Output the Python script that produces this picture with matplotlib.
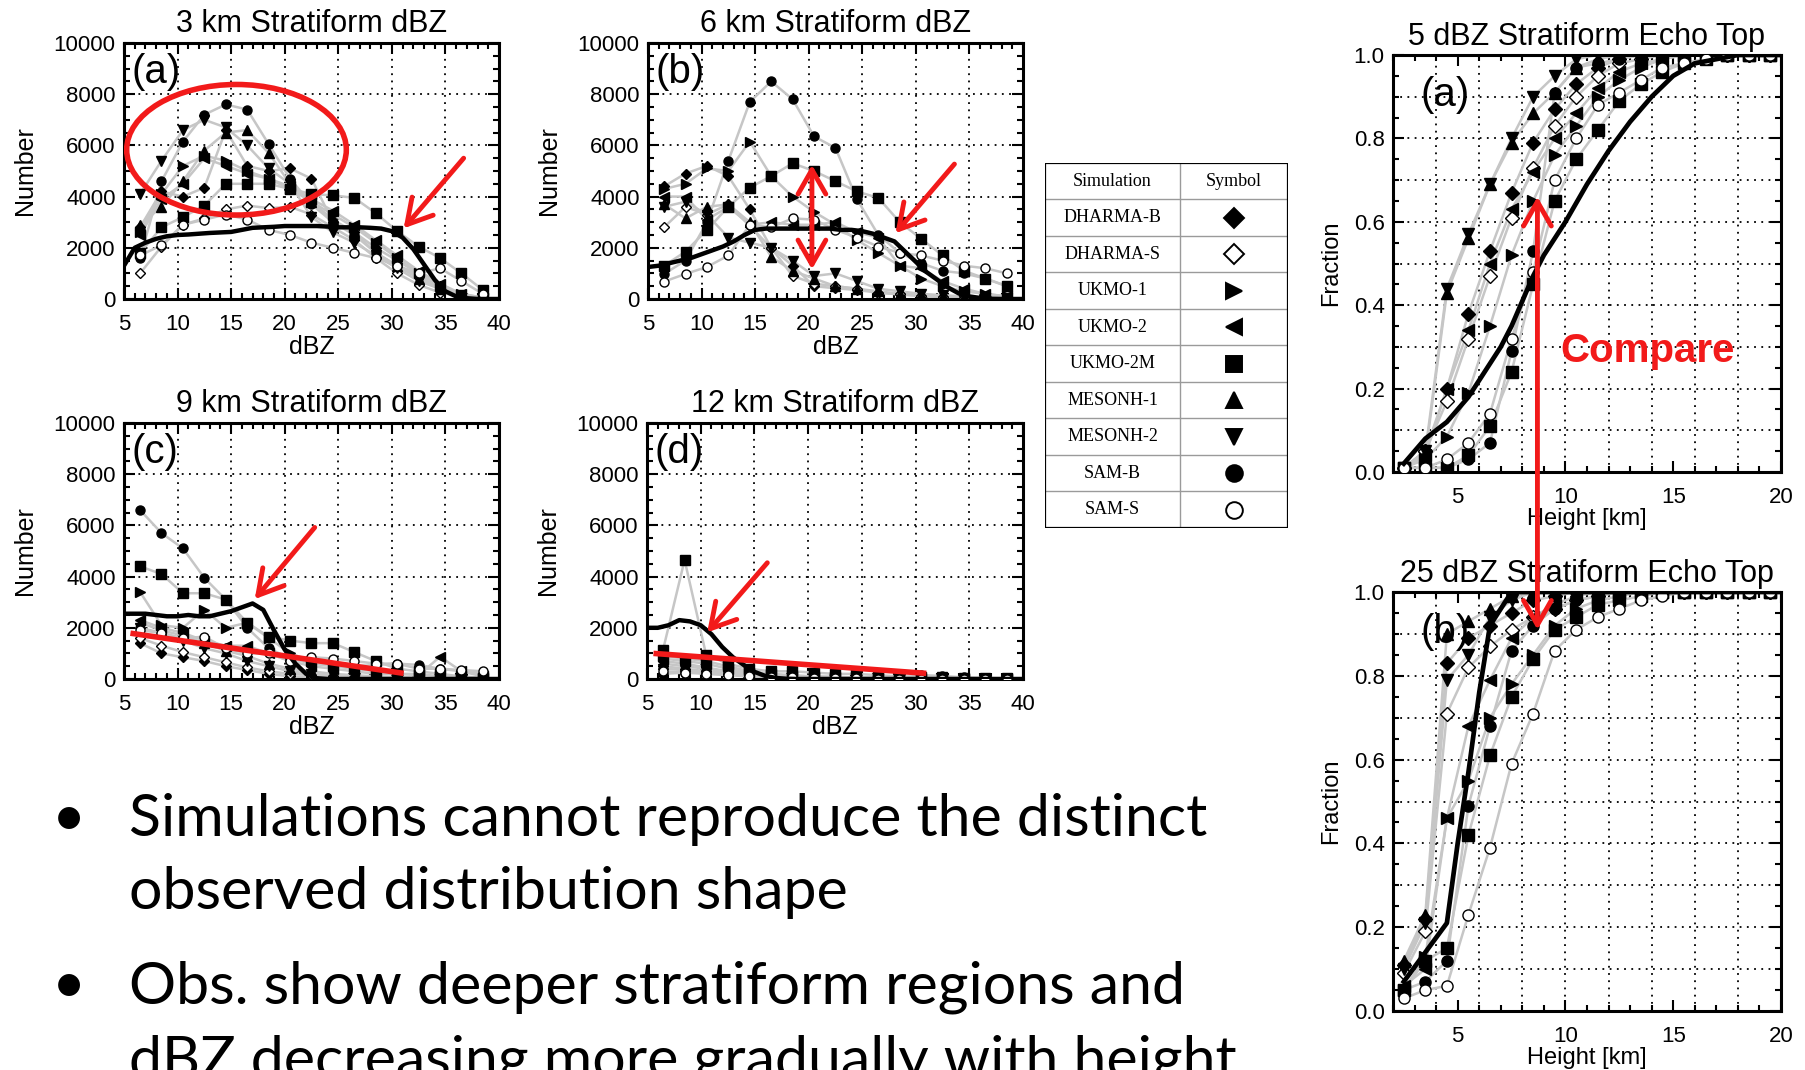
import matplotlib.pyplot as plt
from matplotlib.patches import Ellipse, Rectangle, ConnectionPatch
from matplotlib.ticker import MultipleLocator, FormatStrFormatter

plt.rcParams['font.family'] = ['Liberation Sans', 'DejaVu Sans']

W, H = 1806, 1070

sims = ['DHARMA-B', 'DHARMA-S', 'UKMO-1', 'UKMO-2', 'UKMO-2M',
        'MESONH-1', 'MESONH-2', 'SAM-B', 'SAM-S']
sim_markers = ['D', 'D', '>', '<', 's', '^', 'v', 'o', 'o']
sim_filled = [True, False, True, True, True, True, True, True, False]

dbz_bins = [6.5, 8.5, 10.5, 12.5, 14.5, 16.5, 18.5, 20.5, 22.5,
            24.5, 26.5, 28.5, 30.5, 32.5, 34.5, 36.5, 38.5]
obs_dbz = list(range(5, 41))
heights = [2.5, 3.5, 4.5, 5.5, 6.5, 7.5, 8.5, 9.5, 10.5,
           11.5, 12.5, 13.5, 14.5, 15.5, 16.5, 17.5, 18.5, 19.5]

# ---- 3 km dBZ counts
km3_dharma_b = [2800, 4200, 4000, 4350, 6600, 5200, 5000, 5100, 4700, 3000, 2600, 2000, 1500, 1000, 500, 150, 50]
km3_dharma_s = [1000, 2050, 2900, 3150, 3500, 3650, 3550, 3600, 3300, 2800, 2300, 1600, 1000, 550, 250, 100, 30]
km3_ukmo_1 = [2600, 4100, 5200, 5600, 5400, 5000, 4700, 4300, 3800, 3300, 2800, 2200, 1600, 1000, 500, 200, 50]
km3_ukmo_2 = [2500, 3900, 4500, 5500, 5200, 4900, 4700, 4400, 3900, 3450, 2900, 2300, 1700, 1100, 600, 200, 50]
km3_ukmo_2m = [1800, 2800, 3200, 3650, 4500, 4500, 4500, 4300, 4100, 4050, 3950, 3350, 2650, 2050, 1600, 1000, 350]
km3_mesonh_1 = [2900, 3600, 4600, 5800, 6500, 6600, 5700, 4500, 3800, 3100, 2600, 1800, 1300, 800, 400, 150, 50]
km3_mesonh_2 = [4100, 5400, 6600, 7000, 6700, 6000, 5100, 4500, 3200, 2600, 2200, 1700, 1200, 700, 400, 150, 50]
km3_sam_b = [1600, 4600, 6150, 7200, 7600, 7400, 6050, 4700, 3700, 3000, 2500, 1800, 1300, 900, 400, 150, 50]
km3_sam_s = [1700, 2100, 2900, 3100, 3300, 3100, 2700, 2500, 2200, 2000, 1800, 1600, 1300, 1000, 1200, 700, 200]
km3_obs = [1300, 2000, 2200, 2350, 2450, 2500, 2520, 2550, 2580, 2600, 2620, 2700, 2780, 2800, 2820, 2850,
           2850, 2850, 2850, 2830, 2800, 2800, 2800, 2780, 2750, 2650, 2400, 1950, 1350, 750, 300, 100, 30, 0, 0, 0]

# ---- 6 km dBZ counts
km6_dharma_b = [4400, 4900, 5200, 4800, 3500, 2000, 1300, 500, 420, 350, 250, 180, 120, 80, 50, 30, 20]
km6_dharma_s = [2800, 3600, 3300, 3700, 2850, 2000, 900, 600, 500, 400, 250, 180, 120, 80, 50, 30, 20]
km6_ukmo_1 = [4300, 4500, 5100, 5000, 6150, 4800, 4000, 3400, 2900, 2300, 1800, 1300, 800, 500, 300, 200, 100]
km6_ukmo_2 = [4000, 4000, 3100, 3600, 2900, 3000, 2900, 2900, 3000, 2600, 2400, 1300, 1200, 700, 400, 200, 100]
km6_ukmo_2m = [1300, 1850, 2700, 3600, 4350, 4800, 5300, 5000, 4600, 4200, 3950, 3000, 2350, 1700, 1100, 800, 500]
km6_mesonh_1 = [3700, 3150, 3600, 3700, 3000, 1650, 1100, 800, 500, 400, 300, 200, 150, 100, 70, 40, 20]
km6_mesonh_2 = [3600, 3800, 3300, 2400, 2200, 2000, 1500, 900, 1000, 700, 400, 300, 200, 150, 100, 60, 30]
km6_sam_b = [980, 1500, 3000, 5400, 7700, 8500, 7800, 6350, 5900, 3900, 2500, 1800, 1400, 1100, 1000, 800, 500]
km6_sam_s = [680, 980, 1250, 1700, 2900, 2800, 3150, 3100, 2700, 2400, 2050, 1800, 1700, 1500, 1300, 1200, 1000]
km6_obs = [1250, 1300, 1400, 1500, 1600, 1750, 1900, 2050, 2250, 2500, 2700, 2750, 2750, 2750, 2750, 2750,
           2750, 2750, 2700, 2700, 2650, 2550, 2400, 2250, 1850, 1450, 1050, 750, 450, 220, 100, 40, 10, 0, 0, 0]

# ---- 9 km dBZ counts
km9_dharma_b = [1400, 1000, 850, 700, 500, 350, 200, 100, 60, 40, 30, 20, 10, 10, 0, 0, 0]
km9_dharma_s = [1600, 1300, 1050, 850, 650, 450, 300, 200, 150, 100, 80, 60, 40, 30, 20, 10, 0]
km9_ukmo_1 = [3400, 2100, 2000, 2700, 2000, 2200, 1600, 1000, 700, 500, 400, 300, 200, 200, 100, 60, 30]
km9_ukmo_2 = [2300, 2000, 1800, 1500, 1300, 1300, 1000, 700, 500, 400, 300, 200, 200, 150, 870, 300, 100]
km9_ukmo_2m = [4400, 4100, 3350, 3350, 3100, 2200, 1650, 1500, 1400, 1400, 1050, 700, 400, 300, 200, 100, 50]
km9_mesonh_1 = [2200, 1900, 1700, 1400, 1100, 900, 600, 400, 300, 200, 150, 100, 80, 50, 30, 20, 10]
km9_mesonh_2 = [2000, 1800, 1500, 1200, 1000, 700, 500, 300, 200, 150, 100, 80, 50, 30, 20, 10, 0]
km9_sam_b = [6600, 5700, 5100, 3950, 3100, 2000, 1200, 800, 600, 500, 500, 550, 600, 550, 400, 300, 200]
km9_sam_s = [1900, 1800, 1600, 1650, 1200, 1000, 1000, 700, 850, 800, 700, 600, 600, 400, 400, 350, 300]
km9_obs = [2550, 2550, 2550, 2500, 2450, 2450, 2500, 2450, 2450, 2550, 2650, 2800, 2950, 2700, 1900, 1150,
           600, 200, 30, 0, 0, 0, 0, 0, 0, 0, 0, 0, 0, 0, 0, 0, 0, 0, 0, 0]

# ---- 12 km dBZ counts
km12_dharma_b = [700, 600, 450, 300, 200, 120, 80, 50, 30, 20, 10, 10, 0, 0, 0, 0, 0]
km12_dharma_s = [500, 400, 300, 200, 150, 100, 60, 40, 20, 10, 0, 0, 0, 0, 0, 0, 0]
km12_ukmo_1 = [900, 800, 700, 500, 300, 200, 150, 100, 80, 60, 40, 30, 20, 10, 0, 0, 0]
km12_ukmo_2 = [800, 700, 600, 400, 250, 180, 120, 80, 60, 40, 30, 20, 10, 0, 0, 0, 0]
km12_ukmo_2m = [1150, 4650, 950, 600, 400, 300, 300, 250, 200, 200, 150, 100, 80, 60, 50, 30, 20]
km12_mesonh_1 = [600, 500, 400, 300, 200, 100, 60, 40, 20, 10, 0, 0, 0, 0, 0, 0, 0]
km12_mesonh_2 = [400, 350, 300, 200, 120, 80, 50, 30, 20, 10, 0, 0, 0, 0, 0, 0, 0]
km12_sam_b = [200, 250, 300, 250, 200, 150, 120, 100, 80, 60, 50, 40, 150, 120, 60, 40, 30]
km12_sam_s = [300, 250, 200, 150, 100, 80, 60, 40, 30, 20, 10, 10, 0, 0, 0, 0, 0]
km12_obs = [2000, 2000, 2100, 2300, 2250, 2100, 1750, 1250, 850, 550, 280, 120, 40, 10, 0, 0, 0, 0,
            0, 0, 0, 0, 0, 0, 0, 0, 0, 0, 0, 0, 0, 0, 0, 0, 0, 0]

# ---- 5 dBZ echo top cumulative fraction
et5_dharma_b = [0.01, 0.05, 0.20, 0.38, 0.53, 0.67, 0.79, 0.87, 0.93, 0.97, 0.99, 1, 1, 1, 1, 1, 1, 1]
et5_dharma_s = [0.01, 0.05, 0.17, 0.32, 0.47, 0.61, 0.73, 0.83, 0.90, 0.95, 0.98, 0.99, 1, 1, 1, 1, 1, 1]
et5_ukmo_1 = [0.01, 0.03, 0.085, 0.19, 0.35, 0.52, 0.65, 0.76, 0.83, 0.90, 0.94, 0.97, 0.99, 1, 1, 1, 1, 1]
et5_ukmo_2 = [0.01, 0.04, 0.20, 0.34, 0.50, 0.63, 0.72, 0.80, 0.86, 0.92, 0.96, 0.98, 0.99, 1, 1, 1, 1, 1]
et5_ukmo_2m = [0.01, 0.01, 0.01, 0.04, 0.11, 0.24, 0.45, 0.65, 0.75, 0.82, 0.89, 0.93, 0.96, 0.98, 0.99, 1, 1, 1]
et5_mesonh_1 = [0.01, 0.04, 0.43, 0.56, 0.69, 0.79, 0.86, 0.91, 0.97, 0.99, 1, 1, 1, 1, 1, 1, 1, 1]
et5_mesonh_2 = [0.01, 0.05, 0.44, 0.57, 0.69, 0.80, 0.90, 0.95, 0.99, 1, 1, 1, 1, 1, 1, 1, 1, 1]
et5_sam_b = [0.01, 0.01, 0.01, 0.03, 0.07, 0.29, 0.53, 0.91, 0.97, 0.98, 0.99, 1, 1, 1, 1, 1, 1, 1]
et5_sam_s = [0.01, 0.01, 0.03, 0.07, 0.14, 0.32, 0.48, 0.70, 0.80, 0.88, 0.91, 0.94, 0.97, 0.98, 0.99, 1, 1, 1]
et5_obs_h = [2.5, 3, 3.5, 4, 4.5, 5, 5.5, 6, 6.5, 7, 7.5, 8, 8.5, 9, 9.5, 10, 11, 12, 13, 14, 15, 16, 17, 18, 19, 20]
et5_obs = [0.02, 0.05, 0.08, 0.10, 0.12, 0.15, 0.18, 0.22, 0.26, 0.30, 0.35, 0.41, 0.47, 0.52, 0.56, 0.60,
           0.69, 0.77, 0.84, 0.90, 0.95, 0.98, 0.99, 1.0, 1.0, 1.0]

# ---- 25 dBZ echo top cumulative fraction
et25_dharma_b = [0.11, 0.22, 0.83, 0.89, 0.92, 0.95, 0.98, 0.99, 1, 1, 1, 1, 1, 1, 1, 1, 1, 1]
et25_dharma_s = [0.09, 0.19, 0.71, 0.82, 0.87, 0.91, 0.94, 0.96, 0.98, 0.99, 1, 1, 1, 1, 1, 1, 1, 1]
et25_ukmo_1 = [0.05, 0.13, 0.46, 0.55, 0.70, 0.78, 0.85, 0.92, 0.96, 0.98, 0.99, 1, 1, 1, 1, 1, 1, 1]
et25_ukmo_2 = [0.06, 0.10, 0.46, 0.68, 0.79, 0.89, 0.94, 0.97, 0.99, 1, 1, 1, 1, 1, 1, 1, 1, 1]
et25_ukmo_2m = [0.05, 0.12, 0.15, 0.42, 0.61, 0.75, 0.84, 0.91, 0.94, 0.97, 0.98, 0.99, 1, 1, 1, 1, 1, 1]
et25_mesonh_1 = [0.12, 0.23, 0.90, 0.93, 0.96, 0.99, 1, 1, 1, 1, 1, 1, 1, 1, 1, 1, 1, 1]
et25_mesonh_2 = [0.10, 0.21, 0.79, 0.85, 0.94, 0.98, 1, 1, 1, 1, 1, 1, 1, 1, 1, 1, 1, 1]
et25_sam_b = [0.05, 0.07, 0.12, 0.49, 0.68, 0.86, 0.92, 0.96, 0.98, 0.99, 1, 1, 1, 1, 1, 1, 1, 1]
et25_sam_s = [0.03, 0.05, 0.06, 0.23, 0.39, 0.59, 0.71, 0.86, 0.91, 0.94, 0.96, 0.98, 0.99, 1, 1, 1, 1, 1]
et25_obs_h = [2.5, 3.5, 4.5, 5.0, 5.5, 6.0, 6.5, 7.0, 7.5, 20]
et25_obs = [0.07, 0.14, 0.21, 0.40, 0.57, 0.76, 0.92, 0.96, 1.0, 1.0]

# ---- red annotations (data coordinates of the panel they sit in)
ellipse_a = (15.5, 5830, 20.5, 5100)
arrow_a = ((36.7, 5500), (31.1, 2760))
arrow_b = ((33.6, 5270), (28.1, 2570))
span_b = ((20.3, 5240), (20.3, 1160))
arrow_c = ((22.8, 5920), (17.2, 3120))
trend_c = ((5.6, 1790), (31.1, 220))
arrow_d = ((16.2, 4540), (10.6, 1820))
trend_d = ((5.6, 1000), (31.0, 220))
compare_h = 8.7
compare_top = 0.66
compare_bottom = 0.91

bullets = [['Simulations cannot reproduce the distinct', 'observed distribution shape'],
           ['Obs. show deeper stratiform regions and', 'dBZ decreasing more gradually with height']]

RED = '#f21a1a'
GRAY = '#c6c6c6'
DOTS = (0, (1, 3))


def px_axes(fig, x0, y0, x1, y1):
    return fig.add_axes([x0 / W, 1 - y1 / H, (x1 - x0) / W, (y1 - y0) / H])


def frame(ax):
    for s in ax.spines.values():
        s.set_linewidth(2.2)
    ax.tick_params(which='both', direction='in', top=True, right=True, width=1.5, labelsize=16)
    ax.tick_params(axis='x', which='both', pad=11)
    ax.tick_params(axis='y', which='both', pad=6)
    ax.tick_params(which='major', length=8)
    ax.tick_params(which='minor', length=4)


def draw_sims(ax, xs, series, ms):
    for vals, m, filled in zip(series, sim_markers, sim_filled):
        ax.plot(xs, vals, color=GRAY, lw=1.8, zorder=2)
        ax.plot(xs, vals, ls='none', marker=m, ms=ms * (0.85 if m == 'D' else 1.0),
                mfc='black' if filled else 'white', mec='black', mew=1.0, zorder=3)


def dbz_panel(ax, series, obs, title, letter):
    draw_sims(ax, dbz_bins, series, 6.5)
    ax.plot(obs_dbz, obs, color='black', lw=3.2, zorder=4)
    ax.set_xlim(5, 40)
    ax.set_ylim(0, 10000)
    ax.xaxis.set_major_locator(MultipleLocator(5))
    ax.xaxis.set_minor_locator(MultipleLocator(1))
    ax.yaxis.set_major_locator(MultipleLocator(2000))
    ax.yaxis.set_minor_locator(MultipleLocator(500))
    ax.grid(True, which='major', color='black', ls=DOTS, lw=1.3)
    frame(ax)
    ax.set_title(title, fontsize=22, pad=8)
    ax.set_xlabel('dBZ', fontsize=18, labelpad=0)
    ax.set_ylabel('Number', fontsize=18, labelpad=12)
    ax.text(0.02, 0.885, letter, transform=ax.transAxes, fontsize=29, va='center', ha='left')


def top_panel(ax, series, obs_h, obs, title, letter):
    draw_sims(ax, heights, series, 8)
    ax.plot(obs_h, obs, color='black', lw=3.4, zorder=4)
    ax.set_xlim(2, 20)
    ax.set_ylim(0, 1)
    ax.xaxis.set_major_locator(MultipleLocator(5))
    ax.xaxis.set_minor_locator(MultipleLocator(1))
    ax.yaxis.set_major_locator(MultipleLocator(0.2))
    ax.yaxis.set_minor_locator(MultipleLocator(0.05))
    ax.yaxis.set_major_formatter(FormatStrFormatter('%.1f'))
    for gx in range(4, 20, 2):
        ax.axvline(gx, color='black', ls=DOTS, lw=1.3, zorder=1)
    for gy in [0.1, 0.2, 0.3, 0.4, 0.5, 0.6, 0.7, 0.8, 0.9]:
        ax.axhline(gy, color='black', ls=DOTS, lw=1.3, zorder=1)
    frame(ax)
    ax.set_title(title, fontsize=22, pad=7)
    ax.set_xlabel('Height [km]', fontsize=17, labelpad=0)
    ax.set_ylabel('Fraction', fontsize=17, labelpad=8)
    ax.text(0.07, 0.905, letter, transform=ax.transAxes, fontsize=29, va='center', ha='left')


def red_arrow(ax, tail, tip, style='->'):
    ax.annotate('', xy=tip, xytext=tail, zorder=6,
                arrowprops=dict(arrowstyle=style + ',head_length=0.7,head_width=0.4',
                                color=RED, lw=3.5, mutation_scale=25,
                                shrinkA=0, shrinkB=0))


fig = plt.figure(figsize=(W / 100, H / 100), dpi=100)

ax_a = px_axes(fig, 124, 43, 499, 299)
ax_b = px_axes(fig, 648, 43, 1023, 299)
ax_c = px_axes(fig, 124, 423, 499, 679)
ax_d = px_axes(fig, 647, 423, 1023, 679)

dbz_panel(ax_a, [km3_dharma_b, km3_dharma_s, km3_ukmo_1, km3_ukmo_2, km3_ukmo_2m,
                 km3_mesonh_1, km3_mesonh_2, km3_sam_b, km3_sam_s],
          km3_obs, '3 km Stratiform dBZ', '(a)')
dbz_panel(ax_b, [km6_dharma_b, km6_dharma_s, km6_ukmo_1, km6_ukmo_2, km6_ukmo_2m,
                 km6_mesonh_1, km6_mesonh_2, km6_sam_b, km6_sam_s],
          km6_obs, '6 km Stratiform dBZ', '(b)')
dbz_panel(ax_c, [km9_dharma_b, km9_dharma_s, km9_ukmo_1, km9_ukmo_2, km9_ukmo_2m,
                 km9_mesonh_1, km9_mesonh_2, km9_sam_b, km9_sam_s],
          km9_obs, '9 km Stratiform dBZ', '(c)')
dbz_panel(ax_d, [km12_dharma_b, km12_dharma_s, km12_ukmo_1, km12_ukmo_2, km12_ukmo_2m,
                 km12_mesonh_1, km12_mesonh_2, km12_sam_b, km12_sam_s],
          km12_obs, '12 km Stratiform dBZ', '(d)')

cx, cy, ew, eh = ellipse_a
ax_a.add_patch(Ellipse((cx, cy), ew, eh, fill=False, ec=RED, lw=4, zorder=6))
red_arrow(ax_a, *arrow_a)
red_arrow(ax_b, *arrow_b)
red_arrow(ax_b, *span_b, style='<->')
red_arrow(ax_c, *arrow_c)
red_arrow(ax_d, *arrow_d)
for ax, (p0, p1) in [(ax_c, trend_c), (ax_d, trend_d)]:
    ax.plot([p0[0], p1[0]], [p0[1], p1[1]], color=RED, lw=4, solid_capstyle='butt', zorder=6)

ax_e5 = px_axes(fig, 1393, 55, 1781, 472)
ax_e25 = px_axes(fig, 1393, 592, 1781, 1011)
top_panel(ax_e5, [et5_dharma_b, et5_dharma_s, et5_ukmo_1, et5_ukmo_2, et5_ukmo_2m,
                  et5_mesonh_1, et5_mesonh_2, et5_sam_b, et5_sam_s],
          et5_obs_h, et5_obs, '5 dBZ Stratiform Echo Top', '(a)')
top_panel(ax_e25, [et25_dharma_b, et25_dharma_s, et25_ukmo_1, et25_ukmo_2, et25_ukmo_2m,
                   et25_mesonh_1, et25_mesonh_2, et25_sam_b, et25_sam_s],
          et25_obs_h, et25_obs, '25 dBZ Stratiform Echo Top', '(b)')
ax_e5.text(13.8, 0.29, 'Compare', color=RED, fontsize=29, fontweight='bold',
           ha='center', va='center', zorder=7)
con = ConnectionPatch(xyA=(compare_h, compare_top), coordsA=ax_e5.transData,
                      xyB=(compare_h, compare_bottom), coordsB=ax_e25.transData,
                      arrowstyle='<->,head_length=0.7,head_width=0.4', mutation_scale=25,
                      color=RED, lw=3.5, shrinkA=0, shrinkB=0)
con.set_zorder(20)
fig.add_artist(con)

# legend table
ax_t = px_axes(fig, 1045, 163, 1288, 528)
ax_t.set_xlim(0, 1)
ax_t.set_ylim(len(sims) + 1, 0)
ax_t.axis('off')
split = 0.556
ax_t.add_patch(Rectangle((0, 0), 1, len(sims) + 1, fill=False, ec='black', lw=1.6, zorder=3))
for r in range(1, len(sims) + 1):
    ax_t.axhline(r, color='#9a9a9a', lw=1.0)
ax_t.axvline(split, color='#9a9a9a', lw=1.0)
serif = ['Liberation Serif', 'DejaVu Serif']
ax_t.text(split / 2, 0.5, 'Simulation', family=serif, fontsize=13, ha='center', va='center')
ax_t.text((1 + split) / 2, 0.5, 'Symbol', family=serif, fontsize=13, ha='center', va='center')
for i, (name, m, filled) in enumerate(zip(sims, sim_markers, sim_filled)):
    ax_t.text(split / 2, i + 1.5, name, family=serif, fontsize=13, ha='center', va='center')
    ax_t.plot((1 + split) / 2, i + 1.5, marker=m, ms=10.5 if m == 'D' else 12,
              mfc='black' if filled else 'white', mec='black', mew=1.4)

# bullet text (the last line runs off the bottom edge, as on the slide)
baselines = [[836, 909], [1003, 1078]]
for lines, ys in zip(bullets, baselines):
    fig.text(69 / W, 1 - ys[0] / H, '\u2022', fontsize=42.5, family=['Lato', 'DejaVu Sans'],
             ha='center', va='baseline')
    for txt, y in zip(lines, ys):
        fig.text(129 / W, 1 - y / H, txt, fontsize=42.5, family=['Lato', 'DejaVu Sans'],
                 ha='left', va='baseline')

fig.savefig('out.png', dpi=100)
